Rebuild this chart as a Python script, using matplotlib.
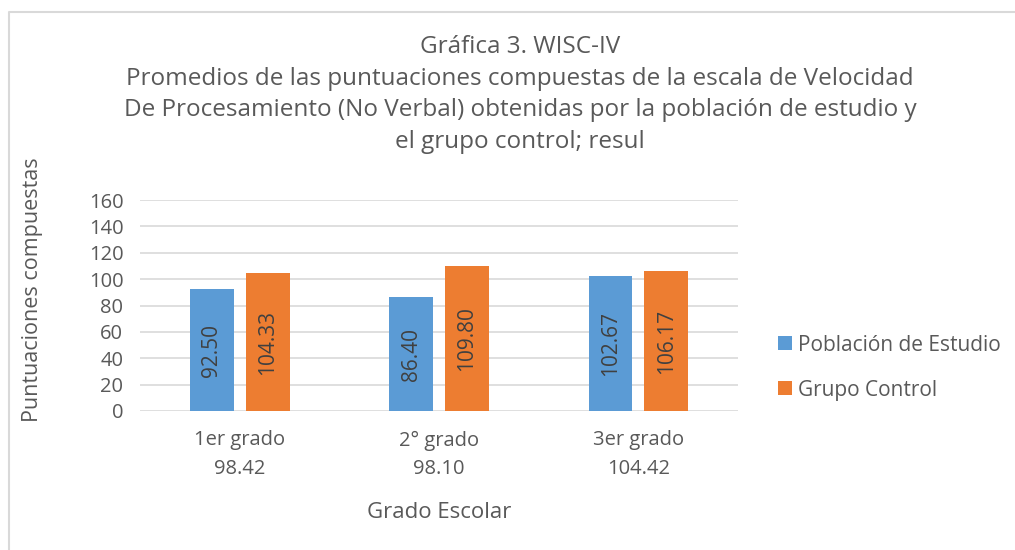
import numpy as np
import matplotlib.pyplot as plt
from matplotlib.lines import Line2D

# datos
grados = ["1er grado\n98.42", "2° grado\n98.10", "3er grado\n104.42"]
poblacion = [92.50, 86.40, 102.67]
control = [104.33, 109.80, 106.17]
series = ["Población de Estudio", "Grupo Control"]

azul = "#5B9BD5"
naranja = "#ED7D31"
gris = "#595959"

plt.rcParams['font.family'] = ['Open Sans', 'DejaVu Sans']

fig = plt.figure(figsize=(10.15, 5.5), dpi=100)
# borde del cuadro (solo arriba e izquierda se ven)
fig.lines.append(Line2D([8.5 / 1015, 8.5 / 1015, 1], [0, 1 - 11.5 / 550, 1 - 11.5 / 550],
                        transform=fig.transFigure, color="#D9D9D9", linewidth=1.5))

ax = fig.add_axes([140 / 1015, 139 / 550, 598 / 1015, 211 / 550])
x = np.arange(len(grados))
w = 0.22
b1 = ax.bar(x - 0.14, poblacion, w, color=azul, label=series[0], zorder=3)
b2 = ax.bar(x + 0.14, control, w, color=naranja, label=series[1], zorder=3)

for bars, vals in [(b1, poblacion), (b2, control)]:
    for r, v in zip(bars, vals):
        ax.text(r.get_x() + r.get_width() / 2, v / 2, "%.2f" % v, rotation=90,
                ha="center", va="center", fontsize=15, color="#404040", zorder=4)

ax.set_xlim(-0.5, 2.5)
ax.set_ylim(0, 160)
ax.set_yticks(range(0, 161, 20))
ax.set_xticks(x)
ax.set_xticklabels(grados, fontsize=14.5, color=gris, linespacing=1.55)
ax.tick_params(axis="y", labelsize=14.5, labelcolor=gris, length=0, pad=12)
ax.tick_params(axis="x", length=0, pad=14)
ax.grid(axis="y", color="#D9D9D9", linewidth=1.2, zorder=0)
for s in ax.spines.values():
    s.set_visible(False)

ax.set_xlabel("Grado Escolar", fontsize=16, color=gris)
ax.xaxis.set_label_coords(0.5, -0.432)
ax.set_ylabel("Puntuaciones compuestas", fontsize=15.5, color=gris)
ax.yaxis.set_label_coords(-0.162, 0.573)

fig.text(520 / 1015, 1 - 35 / 550, "Gráfica 3. WISC-IV\nPromedios de las puntuaciones compuestas de la escala de Velocidad\n"
         "De Procesamiento (No Verbal) obtenidas por la población de estudio y\nel grupo control; resul",
         ha="center", va="top", fontsize=17.5, color=gris, linespacing=1.42)

ax.legend(loc="center left", bbox_to_anchor=(1.067, 0.205), frameon=False, fontsize=15,
          labelcolor=gris, handlelength=0.65, handleheight=0.65, handletextpad=0.3,
          labelspacing=1.15, borderaxespad=0, borderpad=0)

fig.savefig("out.png", dpi=100)
